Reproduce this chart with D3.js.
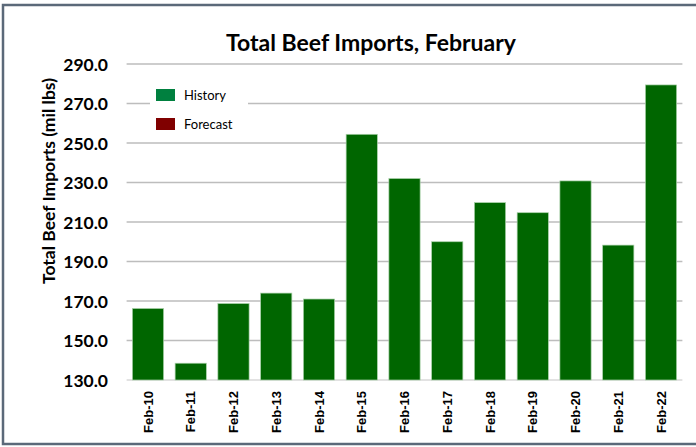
<!DOCTYPE html>
<html>
<head>
<meta charset="utf-8">
<script src="https://cdn.jsdelivr.net/npm/d3@7"></script>
<style>
  html, body { margin: 0; padding: 0; background: #fff; }
  svg { display: block; }
</style>
</head>
<body>
<svg id="chart" width="696" height="447"></svg>
<script>
// Total beef imports for the month of February, million lbs
const categories = ["Feb-10","Feb-11","Feb-12","Feb-13","Feb-14","Feb-15","Feb-16",
                    "Feb-17","Feb-18","Feb-19","Feb-20","Feb-21","Feb-22"];
const history = [166.2, 138.5, 168.7, 174.0, 171.0, 254.4, 232.0,
                 200.0, 219.8, 214.7, 230.8, 198.3, 279.4];
const yTicks = [130, 150, 170, 190, 210, 230, 250, 270, 290];
const legendItems = [
  { label: "History", color: "#00803f" },
  { label: "Forecast", color: "#800000" }
];

const svg = d3.select("#chart");
const W = 696, H = 447;
const plot = { left: 126.6, right: 682.4, top: 64, bottom: 380 };

// outer frame
svg.append("rect")
  .attr("x", 3).attr("y", 5)
  .attr("width", W + 10).attr("height", 439)
  .attr("fill", "#fff")
  .attr("stroke", "#5b6979").attr("stroke-width", 2.5);

const x = d3.scaleBand()
  .domain(categories)
  .range([plot.left, plot.right])
  .paddingInner(0.27).paddingOuter(0.135);

const y = d3.scaleLinear()
  .domain([130, 290])
  .range([plot.bottom, plot.top]);

// horizontal gridlines
svg.append("g")
  .selectAll("line")
  .data(yTicks.slice(1))
  .join("line")
  .attr("x1", plot.left).attr("x2", plot.right)
  .attr("y1", d => y(d)).attr("y2", d => y(d))
  .attr("stroke", "#bdbdbd").attr("stroke-width", 1.6);

// category baseline
svg.append("line")
  .attr("x1", plot.left).attr("x2", plot.right)
  .attr("y1", y(130)).attr("y2", y(130))
  .attr("stroke", "#d9d9d9").attr("stroke-width", 1.6);

// y-axis tick labels
const yAxis = d3.axisLeft(y).tickValues(yTicks).tickFormat(d3.format(".1f")).tickSize(0).tickPadding(0);
const yg = svg.append("g").attr("transform", `translate(108,0)`).call(yAxis);
yg.select(".domain").remove();
yg.selectAll("text")
  .attr("font-family", "Lato, 'Open Sans', sans-serif")
  .attr("font-weight", "bold")
  .attr("font-size", 17.5)
  .attr("fill", "#000")
  .attr("dy", "0.35em");

// x-axis labels, rotated
const xAxis = d3.axisBottom(x).tickSize(0).tickPadding(0);
const xg = svg.append("g").attr("transform", `translate(0,${plot.bottom})`).call(xAxis);
xg.select(".domain").remove();
xg.selectAll("text")
  .attr("font-family", "'Liberation Sans', Arial, sans-serif")
  .attr("font-weight", "bold")
  .attr("font-size", 13)
  .attr("fill", "#000")
  .attr("text-anchor", "end")
  .attr("transform", "rotate(-90)")
  .attr("x", -11).attr("y", 0).attr("dy", "0.35em");

// bars
svg.append("g")
  .selectAll("rect")
  .data(history)
  .join("rect")
  .attr("x", (d, i) => x(categories[i]))
  .attr("y", d => y(d))
  .attr("width", x.bandwidth())
  .attr("height", d => y(130) - y(d))
  .attr("fill", "#006600")
  .attr("stroke", "#a8d0a8").attr("stroke-width", 0.7);

// legend
const lg = svg.append("g");
lg.append("rect")
  .attr("x", 150).attr("y", 76).attr("width", 98).attr("height", 62)
  .attr("fill", "#fff");
const li = lg.selectAll("g").data(legendItems).join("g")
  .attr("transform", (d, i) => `translate(156,${89 + i * 29})`);
li.append("rect")
  .attr("width", 19).attr("height", 12)
  .attr("fill", d => d.color);
li.append("text")
  .attr("x", 28).attr("y", 6).attr("dy", "0.35em")
  .attr("font-family", "Lato, 'Open Sans', sans-serif")
  .attr("font-size", 13)
  .attr("fill", "#000")
  .text(d => d.label);

// title
svg.append("text")
  .attr("x", 371).attr("y", 43).attr("dy", "0.35em")
  .attr("text-anchor", "middle")
  .attr("font-family", "Lato, 'Open Sans', sans-serif")
  .attr("font-weight", "bold")
  .attr("font-size", 23)
  .attr("fill", "#000")
  .text("Total Beef Imports, February");

// y-axis title
svg.append("text")
  .attr("transform", "translate(49,181) rotate(-90)")
  .attr("text-anchor", "middle")
  .attr("dy", "0.35em")
  .attr("font-family", "Lato, 'Open Sans', sans-serif")
  .attr("font-weight", "bold")
  .attr("font-size", 17.5)
  .attr("fill", "#000")
  .text("Total Beef Imports (mil lbs)");
</script>
</body>
</html>
